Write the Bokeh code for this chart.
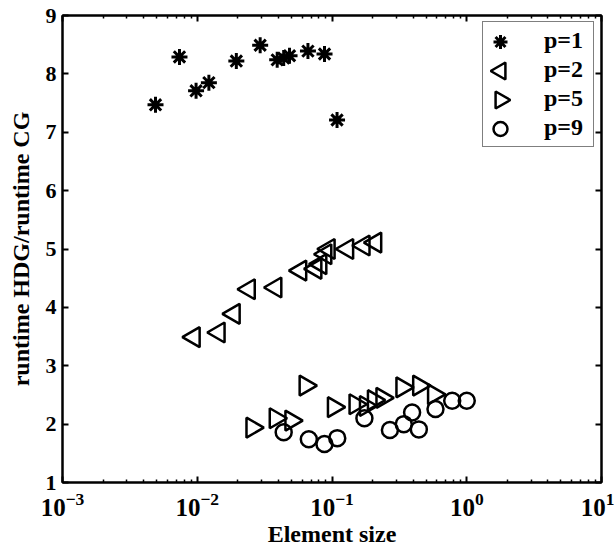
import numpy as np
from bokeh.plotting import figure
from bokeh.models import Range1d, LogAxis, LinearAxis, FixedTicker, LinearScale, Legend, LegendItem
from bokeh.embed import file_html
from bokeh.resources import INLINE

# p=1
x1 = [0.0049, 0.00738, 0.0098, 0.0122, 0.0195, 0.0293, 0.0392, 0.0438, 0.0484, 0.0663, 0.088, 0.109]
y1 = [7.47, 8.29, 7.71, 7.85, 8.22, 8.49, 8.24, 8.27, 8.31, 8.39, 8.34, 7.21]
# p=2
x2 = [0.00944, 0.01445, 0.0187, 0.0242, 0.0381, 0.0583, 0.0755, 0.0822, 0.0895, 0.0947, 0.130, 0.172, 0.210]
y2 = [3.49, 3.57, 3.89, 4.31, 4.34, 4.63, 4.66, 4.74, 4.91, 5.0, 5.0, 5.06, 5.11]
# p=5
x5 = [0.0256, 0.0381, 0.0498, 0.0635, 0.103, 0.149, 0.178, 0.204, 0.236, 0.332, 0.442, 0.570]
y5 = [1.94, 2.10, 2.06, 2.66, 2.29, 2.34, 2.31, 2.41, 2.45, 2.63, 2.66, 2.51]
# p=9
x9 = [0.0438, 0.0673, 0.0879, 0.1094, 0.174, 0.269, 0.341, 0.393, 0.441, 0.586, 0.78, 1.0]
y9 = [1.86, 1.74, 1.66, 1.76, 2.10, 1.90, 2.00, 2.20, 1.91, 2.26, 2.40, 2.40]

x_ticks = [1e-3, 1e-2, 1e-1, 1e0, 1e1]
y_ticks = [1, 2, 3, 4, 5, 6, 7, 8, 9]
x_label = "Element size"
y_label = "runtime HDG/runtime CG"
labels = ["p=1", "p=2", "p=5", "p=9"]

FONT = "Liberation Serif"
W, H = 614, 549
BL, BR, BT, BB = 62, 13, 15, 67
FW, FH = W - BL - BR, H - BT - BB

p = figure(width=W, height=H, x_axis_type="log",
           x_range=Range1d(1e-3, 1e1), y_range=Range1d(1, 9),
           output_backend="svg", toolbar_location=None,
           min_border_left=BL, min_border_right=BR, min_border_top=BT, min_border_bottom=BB)
p.xgrid.visible = False
p.ygrid.visible = False
p.outline_line_color = "black"
p.outline_line_width = 2

minor = [k * 10.0 ** n for n in range(-3, 1) for k in range(2, 10)]

def style(ax, labels_on=True):
    ax.axis_line_width = 2
    ax.axis_line_color = "black"
    ax.major_tick_in = 6
    ax.major_tick_out = 0
    ax.minor_tick_in = 3
    ax.minor_tick_out = 0
    ax.major_tick_line_width = 2
    ax.minor_tick_line_width = 1.5
    ax.major_label_text_font = FONT
    ax.major_label_text_font_style = "bold"
    ax.major_label_text_font_size = "22px"
    ax.major_label_text_color = "black" if labels_on else None
    ax.axis_label_text_font = FONT
    ax.axis_label_text_font_style = "bold"
    ax.axis_label_text_font_size = "24px"
    ax.axis_label_text_color = "black"

xa = p.xaxis[0]
xa.ticker = FixedTicker(ticks=x_ticks, minor_ticks=minor)
style(xa)
xa.major_label_text_font_size = "25px"
xa.axis_label = x_label
xa.major_label_standoff = 10
xa.axis_label_standoff = 2

ya = p.yaxis[0]
ya.ticker = FixedTicker(ticks=y_ticks, minor_ticks=[])
style(ya)
ya.minor_tick_in = 0
ya.axis_label = y_label
ya.major_label_standoff = 6
ya.axis_label_standoff = 9

top = LogAxis(ticker=FixedTicker(ticks=x_ticks, minor_ticks=minor))
style(top, False)
p.add_layout(top, "above")
right = LinearAxis(ticker=FixedTicker(ticks=y_ticks, minor_ticks=[]))
style(right, False)
right.minor_tick_in = 0
p.add_layout(right, "right")

common = dict(line_color="black", fill_color=None, line_width=2.5)
r1 = p.scatter(x1, y1, marker="asterisk", size=16, line_color="black", line_width=3)
r2 = p.scatter(x2, y2, marker="triangle", angle=np.pi / 2, size=20, **common)
r5 = p.scatter(x5, y5, marker="triangle", angle=-np.pi / 2, size=20, **common)
r9 = p.scatter(x9, y9, marker="circle", size=16, **common)

# legend box geometry (frame pixels, origin bottom-left)
leg_left, leg_top_px, pad, row_h = 420, 8, 4, 29
leg_h = 2 * pad + 4 * row_h
leg_top = FH - leg_top_px
lg = Legend(items=[LegendItem(label=labels[i], renderers=[r]) for i, r in enumerate([r1, r2, r5, r9])],
            location=(leg_left, leg_top - leg_h), margin=0, padding=pad, spacing=0,
            glyph_width=0, glyph_height=row_h, label_height=row_h, label_width=45,
            label_standoff=57,
            label_text_font=FONT, label_text_font_style="bold", label_text_font_size="24px",
            label_text_color="black", label_text_baseline="middle",
            border_line_color="black", border_line_width=1,
            background_fill_alpha=0)
p.add_layout(lg)

# legend keys drawn in frame pixel space so that triangles keep their orientation
p.extra_x_ranges = {"px": Range1d(0, FW)}
p.extra_y_ranges = {"py": Range1d(0, FH)}
p.extra_x_scales = {"px": LinearScale()}
p.extra_y_scales = {"py": LinearScale()}
kx = [leg_left + 18] * 4
ky = [leg_top - pad - row_h * (i + 0.5) for i in range(4)]
kw = dict(x_range_name="px", y_range_name="py")
p.scatter(kx[0:1], ky[0:1], marker="asterisk", size=14, line_color="black", line_width=3, **kw)
p.scatter(kx[1:2], ky[1:2], marker="triangle", angle=np.pi / 2, size=17, **common, **kw)
p.scatter(kx[2:3], ky[2:3], marker="triangle", angle=-np.pi / 2, size=17, **common, **kw)
p.scatter(kx[3:4], ky[3:4], marker="circle", size=14, **common, **kw)

open("out.html", "w").write(file_html(p, INLINE))
